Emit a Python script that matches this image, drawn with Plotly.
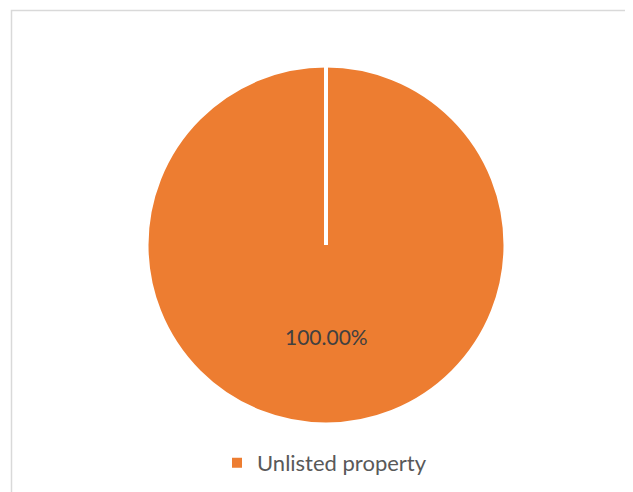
import plotly.graph_objects as go
import math

# ---- data ----
categories = ["Unlisted property"]
values = [100.0]
colors = ["#ED7D31"]

# page body has an 8px margin; figure fills the rest of the 633x492 window
OFF = 8
W, H = 633 - OFF, 492 - OFF
cx_px, cy_px, r_px = 326 - OFF, 245 - OFF, 178.5

dom_x = [(cx_px - r_px) / W, (cx_px + r_px) / W]
dom_y = [1 - (cy_px + r_px) / H, 1 - (cy_px - r_px) / H]

fig = go.Figure()
fig.add_trace(go.Pie(
    labels=categories,
    values=values,
    marker=dict(colors=colors, line=dict(color="white", width=2)),
    textinfo="none",
    sort=False,
    direction="clockwise",
    rotation=0,
    domain=dict(x=dom_x, y=dom_y),
    showlegend=True,
    hoverinfo="label+percent",
))

# pie geometry in paper coords
cx = (dom_x[0] + dom_x[1]) / 2
cy = (dom_y[0] + dom_y[1]) / 2
ry = (dom_y[1] - dom_y[0]) / 2
rx = ry * H / W

total = sum(values)
shapes = []
annotations = []
acc = 0.0
for v in values:
    ang0 = 2 * math.pi * acc / total
    shapes.append(dict(
        type="line", xref="paper", yref="paper",
        x0=cx, y0=cy,
        x1=cx + rx * math.sin(ang0), y1=cy + ry * math.cos(ang0),
        line=dict(color="white", width=4),
    ))
    mid = 2 * math.pi * (acc + v / 2) / total
    annotations.append(dict(
        xref="paper", yref="paper",
        x=cx + 0.513 * rx * math.sin(mid),
        y=cy + 0.513 * ry * math.cos(mid),
        text=f"{100 * v / total:.2f}%",
        showarrow=False,
        font=dict(family="Lato, Carlito, sans-serif", size=21, color="#404040"),
        xanchor="center", yanchor="middle",
    ))
    acc += v

# chart-area border (clipped on right/bottom like the reference)
shapes.append(dict(
    type="rect", xref="paper", yref="paper",
    x0=(11.5 - OFF) / W, y0=-0.2, x1=1.2, y1=1 - (10.5 - OFF) / H,
    line=dict(color="#D9D9D9", width=1.5),
    fillcolor="rgba(0,0,0,0)",
    layer="below",
))

fig.update_layout(
    width=W, height=H,
    margin=dict(l=0, r=0, t=0, b=0),
    paper_bgcolor="white",
    plot_bgcolor="white",
    shapes=shapes,
    annotations=annotations,
    legend=dict(
        orientation="h",
        x=(258 - OFF - 41) / W, xanchor="left",
        y=1 - (463 - OFF) / H, yanchor="middle",
        font=dict(family="Lato, Carlito, sans-serif", size=22, color="#595959"),
        bgcolor="rgba(0,0,0,0)",
    ),
)

fig.write_html("out.html")
